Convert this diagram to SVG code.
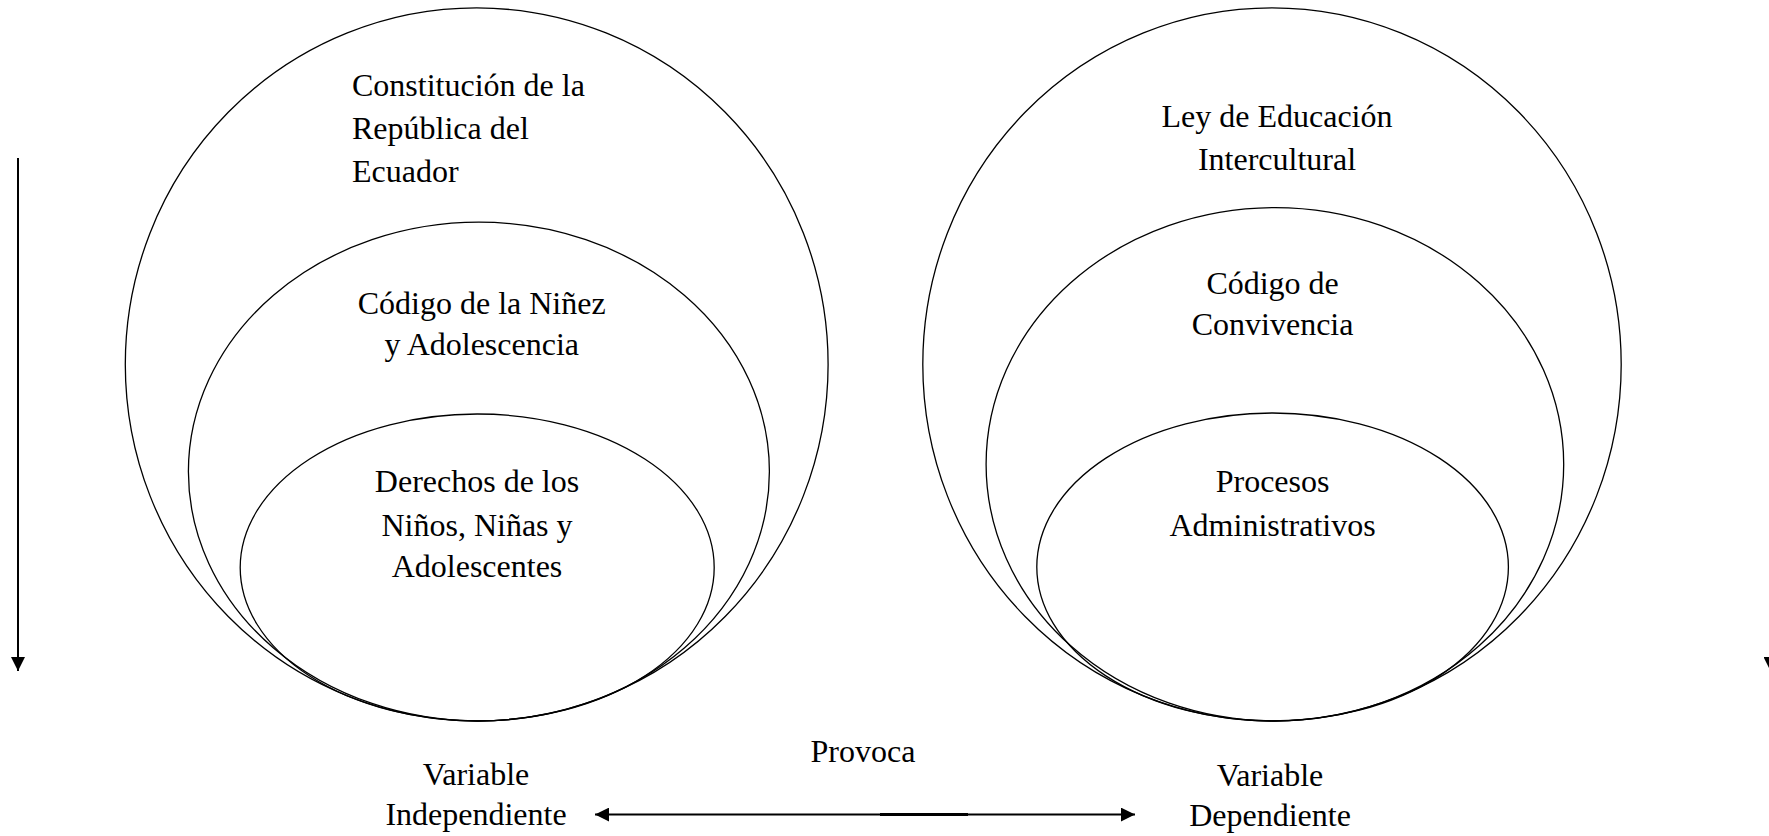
<svg xmlns="http://www.w3.org/2000/svg" width="1769" height="836" viewBox="0 0 1769 836">
<style>
.sh{fill:none;stroke:#000;stroke-width:1.3}
.t{font-family:"Liberation Serif","Times New Roman",serif;font-size:32px;fill:#000}
.c{text-anchor:middle}
.ar{stroke:#000;stroke-width:2;fill:none}
</style>
<defs>
<marker id="ahb" viewBox="0 0 10 10" refX="10" refY="5" markerWidth="14" markerHeight="14" markerUnits="userSpaceOnUse" orient="auto-start-reverse">
<path d="M0,0 L10,5 L0,10 z" fill="#000"/>
</marker>
</defs>
<rect width="1769" height="836" fill="#fff"/>
<g id="left-outer">
<ellipse class="sh" cx="476.7" cy="364.4" rx="351.4" ry="356.5"/>
<text class="t" x="352" y="96">Constitución de la</text>
<text class="t" x="352" y="139">República del</text>
<text class="t" x="352" y="182">Ecuador</text>
</g>
<g id="left-middle">
<ellipse class="sh" cx="478.9" cy="471.6" rx="290.5" ry="249.4"/>
<text class="t c" x="481.7" y="314">Código de la Niñez</text>
<text class="t c" x="481.7" y="355">y Adolescencia</text>
</g>
<g id="left-inner">
<ellipse class="sh" cx="477.2" cy="567.5" rx="237" ry="153.5"/>
<text class="t c" x="477" y="492">Derechos de los</text>
<text class="t c" x="477" y="536">Niños, Niñas y</text>
<text class="t c" x="477" y="577">Adolescentes</text>
</g>
<g id="right-outer">
<ellipse class="sh" cx="1272" cy="364.4" rx="349.2" ry="356.5"/>
<text class="t c" x="1277" y="127">Ley de Educación</text>
<text class="t c" x="1277" y="170">Intercultural</text>
</g>
<g id="right-middle">
<ellipse class="sh" cx="1274.9" cy="464.3" rx="288.8" ry="256.7"/>
<text class="t c" x="1272.6" y="294">Código de</text>
<text class="t c" x="1272.6" y="335">Convivencia</text>
</g>
<g id="right-inner">
<ellipse class="sh" cx="1272.6" cy="567" rx="235.8" ry="154"/>
<text class="t c" x="1272.6" y="492">Procesos</text>
<text class="t c" x="1272.6" y="536">Administrativos</text>
</g>
<g id="var-indep">
<text class="t c" x="476" y="785">Variable</text>
<text class="t c" x="476" y="825">Independiente</text>
</g>
<g id="var-dep">
<text class="t c" x="1270" y="786">Variable</text>
<text class="t c" x="1270" y="826">Dependiente</text>
</g>
<g id="connectors">
<line class="ar" x1="18" y1="158" x2="18" y2="671" marker-end="url(#ahb)"/>
<line class="ar" x1="1770.5" y1="158" x2="1770.5" y2="671" marker-end="url(#ahb)"/>
<line class="ar" x1="595" y1="814.6" x2="1135" y2="814.6" marker-start="url(#ahb)" marker-end="url(#ahb)"/>
<line x1="880" y1="814.6" x2="968" y2="814.6" stroke="#000" stroke-width="3"/>
<text class="t c" x="863" y="762">Provoca</text>
</g>
</svg>
